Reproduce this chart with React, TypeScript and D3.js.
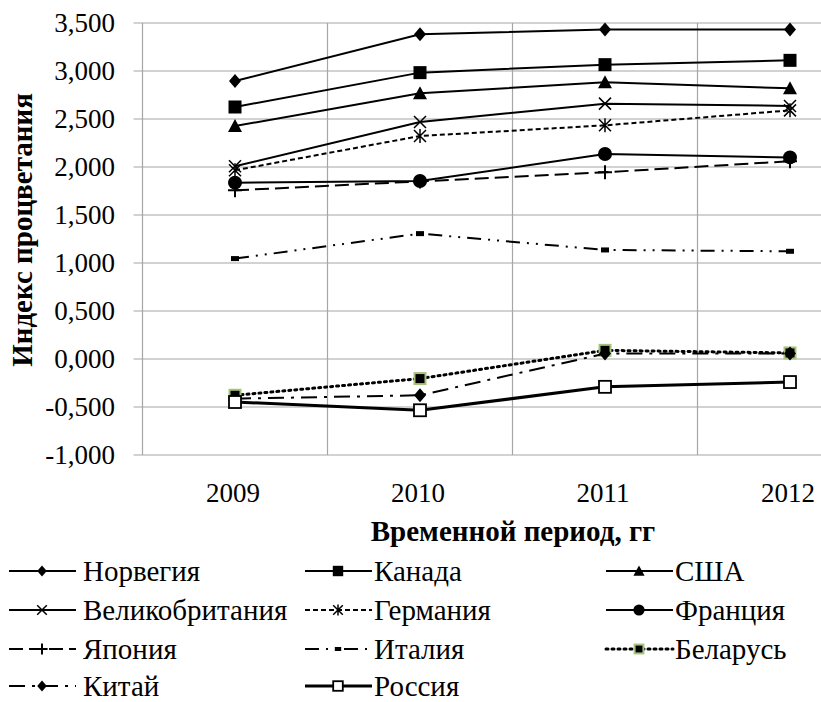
import * as d3 from "d3";

const years = ["2009", "2010", "2011", "2012"];
const yTicks = [-1, -0.5, 0, 0.5, 1, 1.5, 2, 2.5, 3, 3.5];

const norway = [2.896, 3.382, 3.431, 3.431];
const canada = [2.625, 2.983, 3.066, 3.111];
const usa = [2.427, 2.768, 2.882, 2.82];
const uk = [2.007, 2.469, 2.66, 2.636];
const germany = [1.966, 2.323, 2.434, 2.59];
const france = [1.837, 1.854, 2.135, 2.1];
const japan = [1.757, 1.85, 1.945, 2.06];
const italy = [1.046, 1.306, 1.136, 1.122];
const belarus = [-0.378, -0.204, 0.09, 0.063];
const china = [-0.413, -0.378, 0.056, 0.056];
const russia = [-0.448, -0.534, -0.29, -0.24];

type Marker = "diamond" | "square" | "triangle" | "x" | "star" | "circle" | "plus" | "dash" | "greensq" | "whitesq";

const series: {name: string, values: number[], marker: Marker, dash?: string, width: number}[] = [
    {name: "Норвегия", values: norway, marker: "diamond", width: 2},
    {name: "Канада", values: canada, marker: "square", width: 2},
    {name: "США", values: usa, marker: "triangle", width: 2},
    {name: "Великобритания", values: uk, marker: "x", width: 2},
    {name: "Германия", values: germany, marker: "star", dash: "5,3", width: 2},
    {name: "Франция", values: france, marker: "circle", width: 2},
    {name: "Япония", values: japan, marker: "plus", dash: "14,6", width: 2},
    {name: "Италия", values: italy, marker: "dash", dash: "14,7,2,7,2,7", width: 2},
    {name: "Беларусь", values: belarus, marker: "greensq", dash: "2,4", width: 3},
    {name: "Китай", values: china, marker: "diamond", dash: "16,7,3,7", width: 2},
    {name: "Россия", values: russia, marker: "whitesq", width: 3},
];

const fmt = (v: number) => d3.format(".3f")(v).replace(".", ",").replace("−", "-");

function drawMarker(m: Marker, cx: number, cy: number, s: number, key?: string) {
    switch (m) {
        case "diamond":
            return <path key={key} d={`M${cx},${cy - 7 * s}L${cx + 6 * s},${cy}L${cx},${cy + 7 * s}L${cx - 6 * s},${cy}Z`} fill="#000"/>;
        case "square":
            return <rect key={key} x={cx - 6.5 * s} y={cy - 6.5 * s} width={13 * s} height={13 * s} fill="#000"/>;
        case "triangle":
            return <path key={key} d={`M${cx},${cy - 7 * s}L${cx + 7 * s},${cy + 6 * s}L${cx - 7 * s},${cy + 6 * s}Z`} fill="#000"/>;
        case "x":
            return <path key={key} d={`M${cx - 6 * s},${cy - 6 * s}L${cx + 6 * s},${cy + 6 * s}M${cx + 6 * s},${cy - 6 * s}L${cx - 6 * s},${cy + 6 * s}`} stroke="#000" strokeWidth={1.5}/>;
        case "star":
            return <path key={key} d={`M${cx - 6 * s},${cy - 6 * s}L${cx + 6 * s},${cy + 6 * s}M${cx + 6 * s},${cy - 6 * s}L${cx - 6 * s},${cy + 6 * s}M${cx},${cy - 7 * s}L${cx},${cy + 7 * s}`} stroke="#000" strokeWidth={1.5}/>;
        case "circle":
            return <circle key={key} cx={cx} cy={cy} r={7 * s} fill="#000"/>;
        case "plus":
            return <path key={key} d={`M${cx - 7 * s},${cy}L${cx + 7 * s},${cy}M${cx},${cy - 7 * s}L${cx},${cy + 7 * s}`} stroke="#000" strokeWidth={2}/>;
        case "dash":
            return <rect key={key} x={cx - 4 * s} y={cy - 2.5 * s} width={8 * s} height={5 * s} fill="#000"/>;
        case "greensq":
            return <rect key={key} x={cx - 5.5 * s} y={cy - 5.5 * s} width={11 * s} height={11 * s} fill="#000" stroke="#a6c27c" strokeWidth={2}/>;
        case "whitesq":
            return <rect key={key} x={cx - 6 * s} y={cy - 6 * s} width={12 * s} height={12 * s} fill="#fff" stroke="#000" strokeWidth={1.8}/>;
    }
}

export default function App() {
    const W = 821, H = 702;
    const left = 142.5, right = 882.5, top = 23, bottom = 455;
    const x = d3.scaleBand().domain(years).range([left, right]);
    const y = d3.scaleLinear().domain([-1, 3.5]).range([bottom, top]);
    const cx = (i: number) => x(years[i])! + x.bandwidth() / 2;
    const line = d3.line<number>().x((_, i) => cx(i)).y(d => y(d));

    const legCols = [9, 305, 606];
    const legTextX = [83, 374, 675];
    const legRows = [571, 610, 649, 686];
    const grid = "#a6a6a6";
    const tickFs = 27;
    const legFs = 29;

    return (
        <svg width={W} height={H} style={{display: "block", position: "absolute", left: 0, top: 0, fontFamily: "Times New Roman"}}>
            <rect width={W} height={H} fill="#fff"/>
            {yTicks.map(t => (
                <g key={t}>
                    <line x1={left - 9} x2={W} y1={y(t)} y2={y(t)} stroke={grid} strokeWidth={1.2}/>
                    <text x={115} y={y(t)} dy="0.35em" textAnchor="end" fontSize={tickFs}>{fmt(t)}</text>
                </g>
            ))}
            {years.map(yr => (
                <line key={yr} x1={x(yr)!} x2={x(yr)!} y1={top} y2={bottom} stroke={grid} strokeWidth={1.2}/>
            ))}
            {years.map(yr => (
                <text key={yr} x={x(yr)! + x.bandwidth() / 2 - 2} y={493} dy="0.35em" textAnchor="middle" fontSize={tickFs}>{yr}</text>
            ))}
            <text x={513} y={531} dy="0.35em" textAnchor="middle" fontSize={legFs} fontWeight="bold">Временной период, гг</text>
            <text transform={`translate(22,${230}) rotate(-90)`} dy="0.35em" textAnchor="middle" fontSize={legFs} fontWeight="bold">Индекс процветания</text>

            {series.map(s => (
                <g key={s.name}>
                    <path d={line(s.values)!} fill="none" stroke="#000" strokeWidth={s.width}
                          strokeDasharray={s.dash} strokeLinecap={s.marker === "greensq" ? "round" : "butt"}/>
                    {s.values.map((v, i) => drawMarker(s.marker, cx(i), y(v), 1, `${s.name}${i}`))}
                </g>
            ))}

            {series.map((s, k) => {
                const col = k % 3, row = Math.floor(k / 3);
                const x0 = legCols[col], yy = legRows[row];
                return (
                    <g key={`leg${s.name}`}>
                        <line x1={x0} x2={x0 + 67} y1={yy} y2={yy} stroke="#000" strokeWidth={s.width}
                              strokeDasharray={s.dash} strokeLinecap={s.marker === "greensq" ? "round" : "butt"}/>
                        {drawMarker(s.marker, x0 + 33, yy, 0.8)}
                        <text x={legTextX[col]} y={yy} dy="0.35em" fontSize={legFs}>{s.name}</text>
                    </g>
                );
            })}
        </svg>
    );
}
